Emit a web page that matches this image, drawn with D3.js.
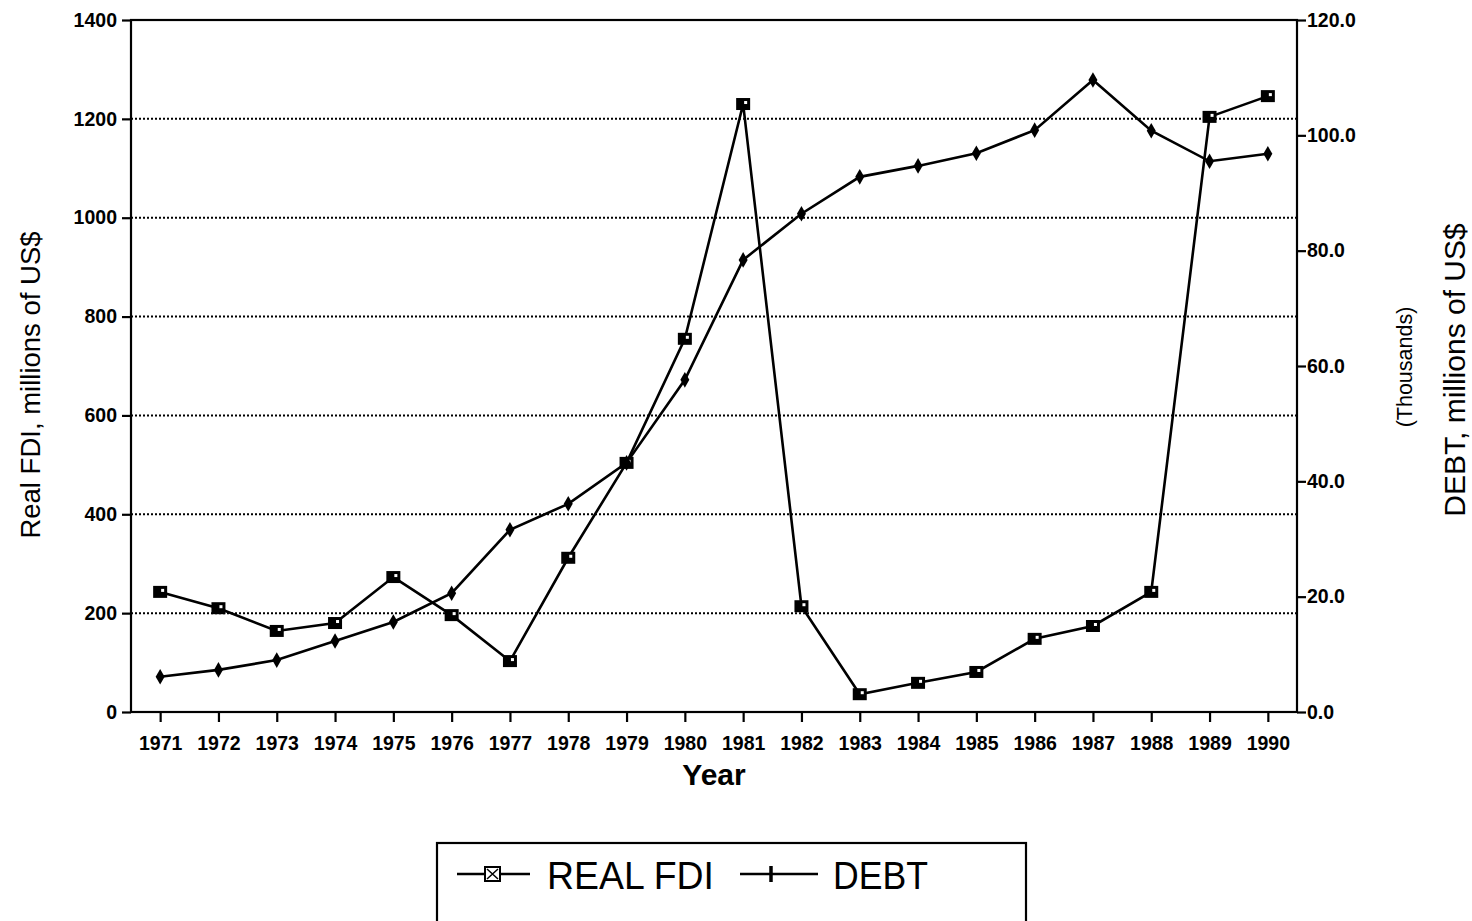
<!DOCTYPE html>
<html><head><meta charset="utf-8">
<script src="https://cdn.jsdelivr.net/npm/d3@7"></script>
<style>body{margin:0;background:#fff}svg{display:block}text{font-family:Arial,"Liberation Sans",sans-serif;fill:#000}</style>
</head><body><svg id="c" width="1472" height="921"></svg>
<script>
const years = [1971,1972,1973,1974,1975,1976,1977,1978,1979,1980,1981,1982,1983,1984,1985,1986,1987,1988,1989,1990];
const realFDI = [243,210,164,180,273,196,103,312,504,755,1230,214,36,59,81,148,174,243,1204,1246];
const debt = [6.1,7.3,9.0,12.3,15.6,20.6,31.6,36.1,43.2,57.6,78.4,86.4,92.8,94.7,96.9,100.9,109.6,100.8,95.5,96.8];
const leftTicks = [0,200,400,600,800,1000,1200,1400];
const rightTicks = [0,20,40,60,80,100,120];

const svg = d3.select("#c");
const L=131, R=1297, T=20, B=712;
const x = d3.scalePoint().domain(years).range([L,R]).padding(0.5);
const yL = d3.scaleLinear().domain([0,1400]).range([B,T]);
const yR = d3.scaleLinear().domain([0,120]).range([B,T]);

// gridlines
svg.append("g").selectAll("line").data(leftTicks.filter(d=>d>0&&d<1400)).join("line")
  .attr("x1",L).attr("x2",R).attr("y1",d=>yL(d)).attr("y2",d=>yL(d))
  .attr("stroke","#000").attr("stroke-width",2).attr("stroke-dasharray","2,2");

// frame
svg.append("rect").attr("x",L).attr("y",T).attr("width",R-L).attr("height",B-T)
  .attr("fill","none").attr("stroke","#000").attr("stroke-width",2.2);

const tickFont = g => g.selectAll("text").style("font-size","19.5px").style("font-weight","bold");

// left axis
const ga = svg.append("g").attr("transform",`translate(${L},0)`)
  .call(d3.axisLeft(yL).tickValues(leftTicks).tickSize(9).tickPadding(5).tickFormat(d3.format("d")));
ga.select(".domain").remove();
ga.selectAll("line").attr("stroke-width",2.2);
tickFont(ga);

// right axis
const gr = svg.append("g").attr("transform",`translate(${R},0)`)
  .call(d3.axisRight(yR).tickValues(rightTicks).tickSize(9).tickPadding(1).tickFormat(d3.format(".1f")));
gr.select(".domain").remove();
gr.selectAll("line").attr("stroke-width",2.2);
tickFont(gr);

// bottom axis
const gb = svg.append("g").attr("transform",`translate(0,${B})`)
  .call(d3.axisBottom(x).tickSize(10).tickPadding(14));
gb.select(".domain").remove();
gb.selectAll("line").attr("stroke-width",2.2);
tickFont(gb);

// titles
svg.append("text").attr("x",714).attr("y",785).attr("text-anchor","middle")
  .style("font-size","30px").style("font-weight","bold").text("Year");
svg.append("text").attr("transform","translate(40,385) rotate(-90)").attr("text-anchor","middle")
  .style("font-size","27.5px").text("Real FDI, millions of US$");
svg.append("text").attr("transform","translate(1465,370) rotate(-90)").attr("text-anchor","middle")
  .style("font-size","30px").text("DEBT, millions of US$");
svg.append("text").attr("transform","translate(1412,367) rotate(-90)").attr("text-anchor","middle")
  .style("font-size","21.5px").text("(Thousands)");

// lines
const lineL = d3.line().x((d,i)=>x(years[i])).y(d=>yL(d));
const lineR = d3.line().x((d,i)=>x(years[i])).y(d=>yR(d));
svg.append("path").attr("d",lineL(realFDI)).attr("fill","none").attr("stroke","#000").attr("stroke-width",2.6);
svg.append("path").attr("d",lineR(debt)).attr("fill","none").attr("stroke","#000").attr("stroke-width",2.6);

// markers
svg.append("g").selectAll("rect").data(realFDI).join("rect")
  .attr("x",(d,i)=>x(years[i])-7).attr("y",d=>yL(d)-6).attr("width",14).attr("height",12).attr("fill","#000");
svg.append("g").selectAll("rect").data(realFDI).join("rect")
  .attr("x",(d,i)=>x(years[i])+1).attr("y",d=>yL(d)-3).attr("width",3).attr("height",3).attr("fill","#fff");
svg.append("g").selectAll("path").data(debt).join("path")
  .attr("transform",(d,i)=>`translate(${x(years[i])},${yR(d)})`)
  .attr("d",d3.symbol(d3.symbolDiamond,70)).attr("fill","#000");

// legend
svg.append("rect").attr("x",437).attr("y",843).attr("width",589).attr("height",100)
  .attr("fill","none").attr("stroke","#000").attr("stroke-width",2.2);
const lg = svg.append("g");
lg.append("line").attr("x1",457).attr("x2",530).attr("y1",874).attr("y2",874).attr("stroke","#000").attr("stroke-width",2.5);
lg.append("rect").attr("x",485).attr("y",867).attr("width",15).attr("height",14).attr("fill","#fff").attr("stroke","#000").attr("stroke-width",2);
lg.append("path").attr("d","M487,869L498,879M498,869L487,879").attr("stroke","#000").attr("stroke-width",1.5);
lg.append("text").attr("x",547).attr("y",889).attr("textLength",167).attr("lengthAdjust","spacingAndGlyphs")
  .style("font-size","39px").text("REAL FDI");
lg.append("line").attr("x1",740).attr("x2",818).attr("y1",874).attr("y2",874).attr("stroke","#000").attr("stroke-width",2.5);
lg.append("line").attr("x1",771).attr("x2",771).attr("y1",866).attr("y2",882).attr("stroke","#000").attr("stroke-width",3.5);
lg.append("text").attr("x",833).attr("y",889).attr("textLength",95).attr("lengthAdjust","spacingAndGlyphs")
  .style("font-size","39px").text("DEBT");
</script></body></html>
